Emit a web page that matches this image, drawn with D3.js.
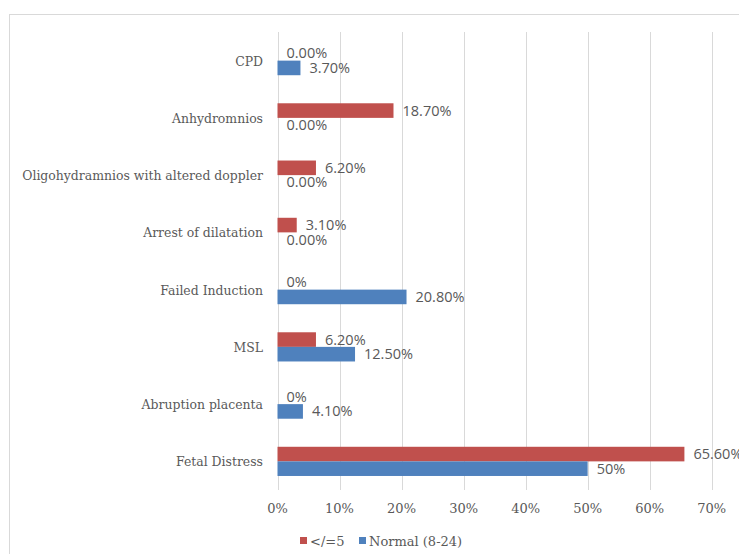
<!DOCTYPE html>
<html>
<head>
<meta charset="utf-8">
<script src="https://cdn.jsdelivr.net/npm/d3@7"></script>
<style>
  html, body { margin: 0; padding: 0; background: #fff; }
  svg { display: block; }
</style>
</head>
<body>
<svg id="chart" width="739" height="554"></svg>
<script>
// Caesarean indications by amniotic fluid group
const categories = [
  "CPD",
  "Anhydromnios",
  "Oligohydramnios with altered doppler",
  "Arrest of dilatation",
  "Failed Induction",
  "MSL",
  "Abruption placenta",
  "Fetal Distress"
];
const seriesNames = ["</=5", "Normal (8-24)"];
const lowValues = [0, 18.7, 6.2, 3.1, 0, 6.2, 0, 65.6];
const normalValues = [3.7, 0, 0, 0, 20.8, 12.5, 4.1, 50];
const lowLabels = ["0.00%", "18.70%", "6.20%", "3.10%", "0%", "6.20%", "0%", "65.60%"];
const normalLabels = ["3.70%", "0.00%", "0.00%", "0.00%", "20.80%", "12.50%", "4.10%", "50%"];
const xTicks = [0, 10, 20, 30, 40, 50, 60, 70];
const colors = ["#C0504D", "#4F81BD"];

const svg = d3.select("#chart");
const serif = "'DejaVu Serif', 'Liberation Serif', serif";
const sans = "'Open Sans', 'Liberation Sans', sans-serif";
const textGrey = "#595959";

// outer chart frame
svg.append("rect")
  .attr("x", 9.5).attr("y", 14.5)
  .attr("width", 760).attr("height", 560)
  .attr("fill", "none").attr("stroke", "#D9D9D9").attr("stroke-width", 1);

const plot = { left: 277.5, right: 711.7, top: 32, bottom: 490 };

const x = d3.scaleLinear().domain([0, 70]).range([plot.left, plot.right]);
const y = d3.scaleBand().domain(categories).range([plot.top, plot.bottom]).paddingInner(0.49).paddingOuter(0.245);
const ySub = d3.scaleBand().domain([0, 1]).range([0, y.bandwidth()]);

// vertical gridlines
svg.append("g").selectAll("line").data(xTicks).join("line")
  .attr("x1", d => Math.round(x(d)) + 0.5).attr("x2", d => Math.round(x(d)) + 0.5)
  .attr("y1", plot.top).attr("y2", plot.bottom)
  .attr("stroke", "#D9D9D9").attr("stroke-width", 1);

// x axis tick labels
svg.append("g").selectAll("text").data(xTicks).join("text")
  .attr("x", d => x(d)).attr("y", 513)
  .attr("text-anchor", "middle")
  .attr("font-family", serif).attr("font-size", 13).attr("fill", textGrey)
  .text(d => d + "%");

// category labels, sized so the longest one spans the left margin
const catG = svg.append("g");
const catText = catG.selectAll("text").data(categories).join("text")
  .attr("x", 263).attr("y", d => y(d) + y.bandwidth() / 2 + 5)
  .attr("text-anchor", "end")
  .attr("font-family", serif).attr("font-size", 13).attr("fill", textGrey)
  .text(d => d);
const widest = d3.max(catText.nodes(), n => n.getComputedTextLength());
if (widest > 0) catText.attr("font-size", 13 * 241 / widest);

const series = [
  { values: lowValues, labels: lowLabels },
  { values: normalValues, labels: normalLabels }
];

series.forEach((s, si) => {
  const rows = categories.map((c, i) => ({ c, v: s.values[i], label: s.labels[i] }));
  const g = svg.append("g");
  g.selectAll("rect").data(rows.filter(r => r.v > 0)).join("rect")
    .attr("x", x(0))
    .attr("y", r => y(r.c) + ySub(si))
    .attr("width", r => x(r.v) - x(0))
    .attr("height", ySub.bandwidth())
    .attr("fill", colors[si]);
  g.selectAll("text").data(rows).join("text")
    .attr("x", r => x(r.v) + 9)
    .attr("y", r => y(r.c) + ySub(si) + ySub.bandwidth() / 2 + 5)
    .attr("font-family", sans).attr("font-size", 14.5).attr("fill", textGrey)
    .text(r => r.label);
});

// legend
const legend = svg.append("g");
const legendItems = [
  { name: seriesNames[0], color: colors[0], x: 300 },
  { name: seriesNames[1], color: colors[1], x: 359 }
];
legendItems.forEach(it => {
  legend.append("rect").attr("x", it.x).attr("y", 537).attr("width", 7).attr("height", 7).attr("fill", it.color);
  legend.append("text").attr("x", it.x + 10).attr("y", 545.5)
    .attr("font-family", serif).attr("font-size", 13).attr("fill", textGrey)
    .text(it.name);
});
</script>
</body>
</html>
